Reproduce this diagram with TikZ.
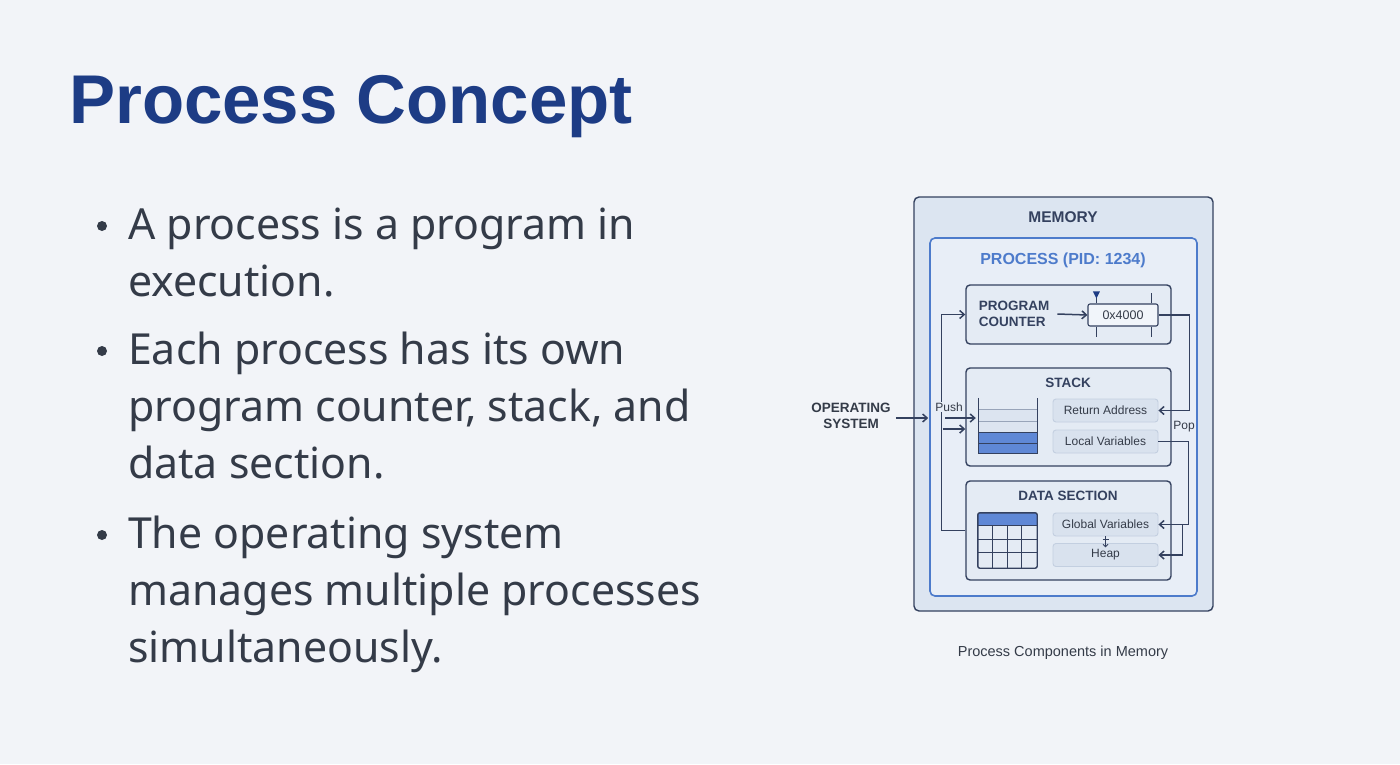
\documentclass[tikz,border=0pt]{standalone}
\usepackage{fontspec}
\setmainfont{Liberation Sans}
\newfontfamily\bodyfont{Noto Sans}
\usepackage{tikz}
\usetikzlibrary{calc}
\usetikzlibrary{arrows.meta,positioning}

\definecolor{pagebg}{HTML}{F2F4F8}
\definecolor{titleblue}{HTML}{1D3C85}
\definecolor{bodytext}{HTML}{343B48}
\definecolor{inkline}{HTML}{34415F}
\definecolor{memfill}{HTML}{DCE5F1}
\definecolor{procline}{HTML}{4D7BCB}
\definecolor{procfill}{HTML}{E8EEF7}
\definecolor{partfill}{HTML}{E4EBF4}
\definecolor{slotfill}{HTML}{D9E2EE}
\definecolor{slotline}{HTML}{C3CFE0}
\definecolor{cellblue}{HTML}{5F88D6}
\definecolor{celllight}{HTML}{DCE4F0}

\begin{document}
\begin{tikzpicture}[
        x=1pt,
        y=-1pt,
        >={Straight Barb[length=4.5pt,width=8pt]},
        flow/.style={->,inkline,line width=1.5pt},
        outer box/.style={draw=inkline,fill=memfill,line width=1.4pt,rounded corners=5pt},
        process box/.style={draw=procline,fill=procfill,line width=1.6pt,rounded corners=5pt},
        part box/.style={draw=inkline,fill=partfill,line width=1.4pt,rounded corners=4pt},
        slot/.style={draw=slotline,fill=slotfill,line width=0.9pt,rounded corners=3pt,
            minimum width=105pt,minimum height=23pt,inner sep=0pt,
            font=\fontsize{12}{14}\selectfont,text=bodytext},
        heading/.style={font=\fontsize{13.5}{16.5}\selectfont\bfseries,text=inkline,inner sep=0pt},
        bullet line/.style={anchor=base west,inner sep=0pt,align=left,text=bodytext,
            font=\bodyfont\fontsize{42.8}{57}\selectfont}
    ]
        % Page background and its frame.
        \fill[pagebg] (0,0) rectangle (1400,764);
        \useasboundingbox (0,0) rectangle (1400,764);

        % The title and the three points (anchored at their last line).
        \node[anchor=base west,inner sep=0pt,text=titleblue,
            font=\fontsize{69}{80}\selectfont\bfseries] (title) at (69,123) {Process Concept};
        \node[bullet line] (pointone) at (128,296) {A process is a program in\\execution.};
        \node[bullet line] (pointtwo) at (128,478)
            {Each process has its own\\program counter, stack, and\\data section.};
        \node[bullet line] (pointthree) at (128,662)
            {The operating system\\manages multiple processes\\simultaneously.};
        \foreach \y in {226,351,535}
            \fill[bodytext] (102,\y) circle (5);

        % Memory holds the process with its three parts.
        \node[outer box,minimum width=299pt,minimum height=414pt] (mem) at (1063.5,404) {};
        \node[heading,font=\fontsize{15.5}{18}\selectfont\bfseries] at (1063,217) {MEMORY};
        \node[process box,minimum width=267pt,minimum height=358pt] (proc) at (1063.5,417) {};
        \node[heading,text=procline,font=\fontsize{16}{18}\selectfont\bfseries]
            at (1063,260) {PROCESS (PID: 1234)};

        \node[part box,minimum width=205pt,minimum height=59pt] (pc) at (1068.5,314.5) {};
        \node[part box,minimum width=205pt,minimum height=98pt] (stack) at (1068.5,417) {};
        \node[part box,minimum width=205pt,minimum height=99pt] (data) at (1068.5,530.5) {};

        % The program counter points at an address.
        \node[heading,align=left] (pclabel) at (1014,314) {PROGRAM\\COUNTER};
        \node[draw=inkline,fill=procfill!60!white,line width=1.1pt,rounded corners=2pt,
            minimum width=70pt,minimum height=22pt,inner sep=0pt,
            font=\fontsize{12.5}{14}\selectfont,text=bodytext] (reg) at (1123,315) {0x4000};
        \draw[flow] ($(pclabel.east)+(8,0)$) -- (reg.west);
        \draw[inkline,line width=1.1pt] ($(reg.north west)+(9,0)$) -- ++(0,-7);
        \draw[inkline,line width=1.1pt] ($(reg.south west)+(9,0)$) -- ++(0,10);
        \draw[inkline,line width=1.1pt] ($(reg.north east)+(-7,0)$) -- ++(0,-10);
        \draw[inkline,line width=1.1pt] ($(reg.south east)+(-7,0)$) -- ++(0,10);
        \fill[titleblue] ($(reg.north west)+(5.5,-12)$) -- ++(7,0) -- ++(-3.5,7) -- cycle;

        % The stack, drawn as a bin of frames.
        \node[heading] at (1068,383) {STACK};
        \node[minimum width=58pt,minimum height=55pt,inner sep=0pt] (bin) at (1008,425.5) {};
        \fill[celllight] ($(bin.south west)+(0,-44)$) rectangle ($(bin.south east)+(0,-21)$);
        \fill[cellblue] ($(bin.south west)+(0,-21)$) rectangle (bin.south east);
        \foreach \h in {10,21}
            \draw[inkline,line width=1pt] ($(bin.south west)+(0,-\h)$) -- ($(bin.south east)+(0,-\h)$);
        \foreach \h in {32,44}
            \draw[slotline!70!inkline,line width=0.7pt] ($(bin.south west)+(0,-\h)$) -- ($(bin.south east)+(0,-\h)$);
        \draw[inkline,line width=1.3pt] (bin.north west) -- (bin.south west) -- (bin.south east) -- (bin.north east);
        \node[slot] (ret) at (1105.5,410.5) {Return Address};
        \node[slot] (loc) at (1105.5,441.5) {Local Variables};

        % The data section, drawn as a table.
        \node[heading] at (1068,496) {DATA SECTION};
        \node[minimum width=59pt,minimum height=55pt,inner sep=0pt] (grid) at (1007.5,540.5) {};
        \fill[cellblue,rounded corners=2pt] (grid.north west) rectangle ($(grid.north east)+(0,13)$);
        \foreach \r in {13,27,40}
            \draw[inkline,line width=1.1pt] ($(grid.north west)+(0,\r)$) -- ($(grid.north east)+(0,\r)$);
        \foreach \c in {15,30,44}
            \draw[inkline,line width=1.1pt] ($(grid.north west)+(\c,13)$) -- ($(grid.south west)+(\c,0)$);
        \draw[inkline,line width=1.4pt,rounded corners=2pt] (grid.north west) rectangle (grid.south east);
        \node[slot] (glob) at (1105.5,524.5) {Global Variables};
        \node[slot] (heap) at (1105.5,555) {Heap};
        \draw[flow,line width=1pt,>={Straight Barb[length=2.5pt,width=5pt]}] (glob.south) -- ++(0,11);
        \draw[inkline,line width=1pt] ($(glob.south)+(-3,3)$) -- ++(6,0);

        % The operating system and the flows on the left.
        \node[heading,align=center,text=bodytext] (os) at (851,416) {OPERATING\\SYSTEM};
        \draw[flow] ($(os.east)+(5,2)$) -- ($(os.east -| proc.west)+(-1,2)$);
        \draw[flow] (data.west) -- ++(-24,0) |- (pc.west);
        \coordinate (loopjoin) at (942.5,429);
        \draw[flow] (loopjoin) -- (loopjoin -| stack.west);
        \node[fill=procfill,inner sep=1pt,font=\fontsize{12}{14}\selectfont,text=bodytext]
            (push) at (949,407) {Push};
        \coordinate (pushstart) at (945,418);
        \draw[flow] (pushstart) -- ($(pushstart -| bin.west)+(-3,0)$);

        % The flows on the right.
        \draw[flow] (reg.east) -- ++(31,0) |- (ret.east);
        \node[font=\fontsize{12}{14}\selectfont,text=bodytext] (pop) at (1184,427) {Pop};
        \draw[flow] (loc.east) -- ++(30,0) |- (glob.east);
        \coordinate (fork) at ($(glob.east)+(24,0)$);
        \draw[flow] (fork) |- (heap.east);

        % Caption under the diagram.
        \node[font=\fontsize{14.5}{17}\selectfont,text=bodytext] (caption) at (1063,653)
            {Process Components in Memory};
    \end{tikzpicture}
\end{document}
